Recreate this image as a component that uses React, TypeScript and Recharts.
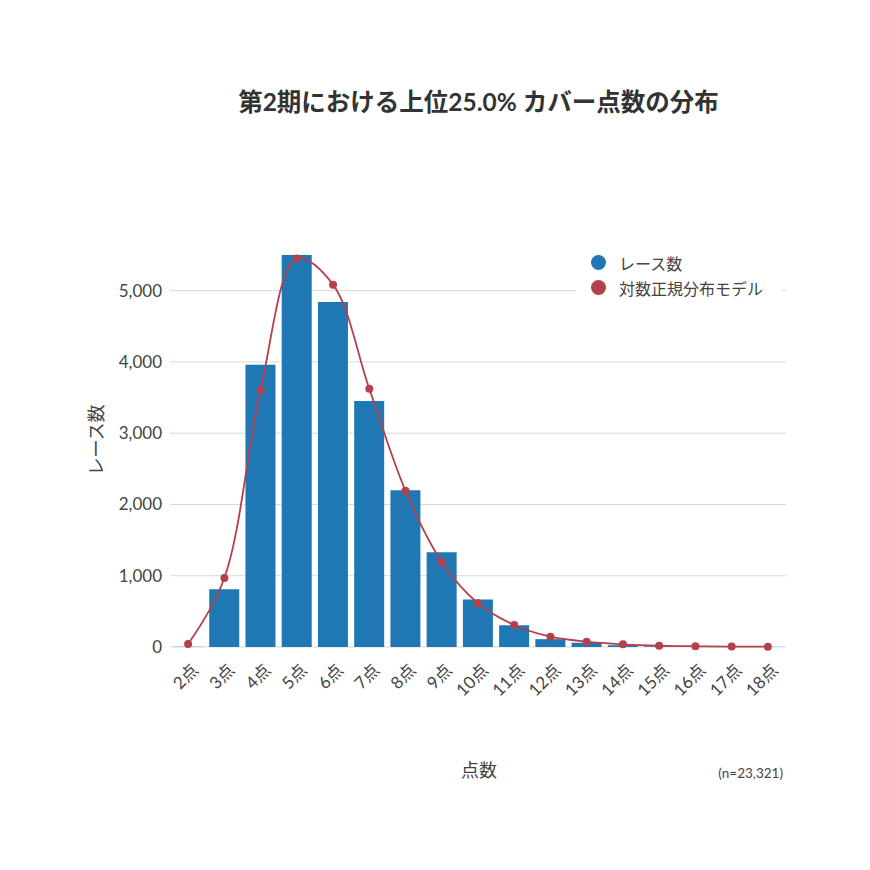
import React from "react";
import {
  Bar,
  CartesianGrid,
  ComposedChart,
  Line,
  XAxis,
  YAxis,
} from "recharts";

const categories = [
  "2点", "3点", "4点", "5点", "6点", "7点", "8点", "9点", "10点",
  "11点", "12点", "13点", "14点", "15点", "16点", "17点", "18点",
];
const raceCounts = [3, 810, 3960, 5500, 4840, 3450, 2200, 1330, 665, 305, 110, 60, 25, 10, 5, 3, 2];
const modelCounts = [42, 969, 3610, 5450, 5084, 3624, 2191, 1194, 614, 309, 145, 75, 38, 18, 10, 6, 4];
const yTicks = [0, 1000, 2000, 3000, 4000, 5000];

const FONT = "Lato, 'Noto Sans CJK JP', sans-serif";
const BLUE = "#1f77b4";
const RED = "#b3404a";

const chartData = categories.map((c, i) => ({
  name: c,
  races: raceCounts[i],
  model: modelCounts[i],
}));

// centripetal catmull-rom tangents, same idea as plotly's "spline" shape
function tangent(a: number[], b: number[], c: number[]) {
  const d1x = a[0] - b[0];
  const d1y = a[1] - b[1];
  const d2x = c[0] - b[0];
  const d2y = c[1] - b[1];
  const d1a = Math.pow(d1x * d1x + d1y * d1y, 0.25);
  const d2a = Math.pow(d2x * d2x + d2y * d2y, 0.25);
  const nx = d2a * d2a * d1x - d1a * d1a * d2x;
  const ny = d2a * d2a * d1y - d1a * d1a * d2y;
  const den1 = 3 * d2a * (d1a + d2a);
  const den2 = 3 * d1a * (d1a + d2a);
  return [
    [b[0] + (den1 ? nx / den1 : 0), b[1] + (den1 ? ny / den1 : 0)],
    [b[0] - (den2 ? nx / den2 : 0), b[1] - (den2 ? ny / den2 : 0)],
  ];
}

function splineCurve(context: any) {
  let pts: number[][] = [];
  return {
    areaStart() {},
    areaEnd() {},
    lineStart() {
      pts = [];
    },
    point(x: number, y: number) {
      pts.push([+x, +y]);
    },
    lineEnd() {
      const n = pts.length;
      if (!n) return;
      context.moveTo(pts[0][0], pts[0][1]);
      if (n < 3) {
        for (let i = 1; i < n; i++) context.lineTo(pts[i][0], pts[i][1]);
        return;
      }
      const t: number[][][] = [];
      for (let i = 1; i < n - 1; i++) t.push(tangent(pts[i - 1], pts[i], pts[i + 1]));
      context.quadraticCurveTo(t[0][0][0], t[0][0][1], pts[1][0], pts[1][1]);
      for (let i = 2; i < n - 1; i++) {
        context.bezierCurveTo(
          t[i - 2][1][0], t[i - 2][1][1],
          t[i - 1][0][0], t[i - 1][0][1],
          pts[i][0], pts[i][1]
        );
      }
      context.quadraticCurveTo(t[n - 3][1][0], t[n - 3][1][1], pts[n - 1][0], pts[n - 1][1]);
    },
  };
}

function XTick(props: any) {
  const { x, y, payload } = props;
  return (
    <text
      transform={`translate(${x + 7},${y + 12}) rotate(-45)`}
      textAnchor="end"
      dy="0.35em"
      fill="#444"
      fontSize={17}
      fontFamily={FONT}
    >
      {payload.value}
    </text>
  );
}

export default function App() {
  return (
    <div style={styles.page}>
      <div style={styles.title}>第2期における上位25.0% カバー点数の分布</div>

      <ComposedChart
        width={870}
        height={870}
        data={chartData}
        margin={{ top: 255, right: 84, left: 110, bottom: 173 }}
        barCategoryGap={3}
      >
        <CartesianGrid stroke="#d9d9d9" vertical={false} horizontalValues={yTicks} />
        <XAxis
          dataKey="name"
          height={50}
          tick={<XTick />}
          tickLine={false}
          axisLine={false}
          interval={0}
        />
        <YAxis
          width={60}
          domain={[0, 5500]}
          ticks={yTicks}
          tickFormatter={(v: number) => v.toLocaleString("en-US")}
          tick={{ fill: "#444", fontSize: 17, fontFamily: FONT }}
          tickLine={false}
          axisLine={false}
          tickMargin={2}
        />
        <Bar dataKey="races" fill={BLUE} isAnimationActive={false} />
        <Line
          dataKey="model"
          type={splineCurve as any}
          stroke={RED}
          strokeWidth={1.8}
          dot={{ r: 4, fill: RED, stroke: "none" }}
          activeDot={false}
          isAnimationActive={false}
        />
      </ComposedChart>

      <div style={styles.legend}>
        <div style={styles.legendRow}>
          <span style={{ ...styles.dot, background: BLUE }} />
          <span>レース数</span>
        </div>
        <div style={styles.legendRow}>
          <span style={{ ...styles.dot, background: RED }} />
          <span>対数正規分布モデル</span>
        </div>
      </div>

      <div style={styles.yTitle}>レース数</div>
      <div style={styles.xTitle}>点数</div>
      <div style={styles.note}>(n=23,321)</div>
    </div>
  );
}

const styles: Record<string, React.CSSProperties> = {
  page: {
    position: "absolute",
    left: 0,
    top: 0,
    width: 870,
    height: 870,
    background: "#ffffff",
    fontFamily: FONT,
    color: "#444",
  },
  title: {
    position: "absolute",
    top: 83,
    left: 0,
    width: 957,
    textAlign: "center",
    fontSize: 24.5,
    fontWeight: 700,
    color: "#333",
  },
  legend: {
    position: "absolute",
    left: 576,
    top: 248,
    width: 206,
    background: "#ffffff",
    fontSize: 16,
    color: "#444",
    paddingTop: 2,
  },
  legendRow: {
    display: "flex",
    alignItems: "center",
    height: 25,
  },
  dot: {
    display: "inline-block",
    width: 15,
    height: 15,
    borderRadius: "50%",
    marginLeft: 15,
    marginRight: 13,
  },
  yTitle: {
    position: "absolute",
    left: 95,
    top: 440,
    transform: "translate(-50%, -50%) rotate(-90deg)",
    fontSize: 18,
    whiteSpace: "nowrap",
  },
  xTitle: {
    position: "absolute",
    left: 479,
    top: 769,
    transform: "translate(-50%, -50%)",
    fontSize: 18,
  },
  note: {
    position: "absolute",
    right: 87,
    top: 765,
    fontSize: 13.5,
  },
};
